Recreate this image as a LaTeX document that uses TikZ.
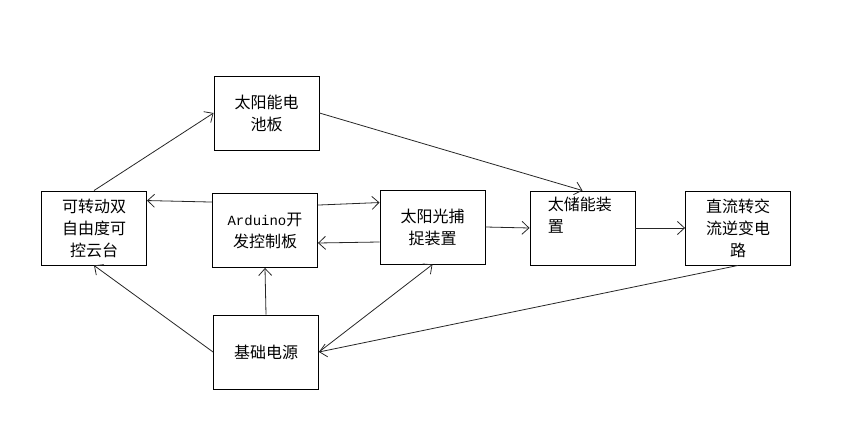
\documentclass[tikz,border=0pt]{standalone}
\usepackage{fontspec}
\setmainfont{Noto Sans CJK SC}
\newfontfamily\latinmono{Liberation Mono}
\usetikzlibrary{arrows.meta,calc}
\begin{document}
\begin{tikzpicture}[x=1pt,y=-1pt,
  box/.style={draw=black,line width=0.9pt,minimum width=105pt,minimum height=74pt,inner sep=0pt,
    font=\fontsize{16}{22}\selectfont,align=center,text width=95pt},
  conn/.style={line width=0.8pt,draw=black!85,-{Straight Barb[length=7pt,width=13pt,line width=0.8pt]}}]
\useasboundingbox (0,0) rectangle (841,446);
\node[box] (panel) at (266.5,113) {太阳能电\\池板};
\node[box] (gimbal) at (94,228) {可转动双\\自由度可\\控云台};
\node[box] (arduino) at (265,230.5) {{\latinmono\fontsize{14}{22}\selectfont Arduino}开\\发控制板};
\node[box] (capture) at (432.5,227) {太阳光捕\\捉装置};
\node[box] (storage) at (582.5,228) {};
\node[anchor=north west,inner sep=0pt,font=\fontsize{16}{22}\selectfont,align=left] (storagetext) at ($(storage.north west)+(18,6)$) {太储能装\\置};
\node[box] (inverter) at (738,228) {直流转交\\流逆变电\\路};
\node[box] (power) at (266,352) {基础电源};

\draw[conn] (gimbal.north) -- (panel.west);
\draw[conn] (panel.east) -- (storage.north);
\draw[conn] ($(arduino.north west)+(0,9)$) -- ($(gimbal.north east)+(0,10)$);
\draw[conn] ($(arduino.north east)+(0,12)$) -- ($(capture.north west)+(0,13)$);
\draw[conn] ($(capture.west)+(0,15)$) -- ($(arduino.east)+(0,12.5)$);
\draw[conn] (capture.east) -- (storage.west);
\draw[conn] (storage.east) -- (inverter.west);
\draw[conn] (inverter.south) -- (power.east);
\draw[conn] (power.east) -- (capture.south);
\draw[conn] (power.north) -- (arduino.south);
\draw[conn] (power.west) -- (gimbal.south);
\end{tikzpicture}
\end{document}
